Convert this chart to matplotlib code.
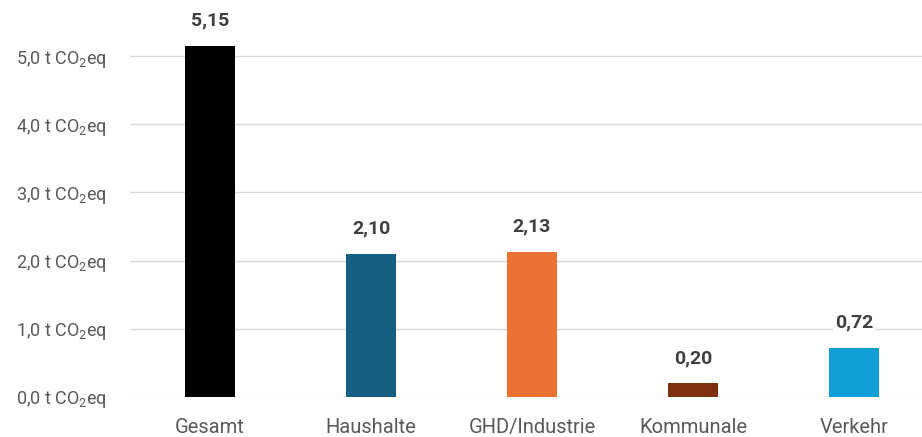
import matplotlib.pyplot as plt

# data
categories = ["Gesamt", "Haushalte", "GHD/Industrie", "Kommunale", "Verkehr"]
values = [5.15, 2.10, 2.13, 0.20, 0.72]
colors = ["#000000", "#156082", "#E97132", "#7E3010", "#0F9ED5"]
yticks = [0, 1, 2, 3, 4, 5]

plt.rcParams["font.family"] = ["Roboto", "DejaVu Sans"]
plt.rcParams["mathtext.default"] = "regular"

W, H = 922, 437
fig = plt.figure(figsize=(W / 100, H / 100), dpi=100)
# axes run past the right/top figure edge like the cropped original
left, bottom = 129.5 / W, 40 / H
ax = fig.add_axes((left, bottom, 805 / W, 409.2 / H))

x = range(len(categories))
ax.bar(x, values, width=50 / 161, color=colors, zorder=2)
ax.set_xlim(-0.5, len(categories) - 0.5)
ax.set_ylim(0, 6)

ax.set_yticks(yticks)
ax.set_yticklabels([f"{v},0 t CO$_2$eq" for v in yticks], color="#595959", fontsize=13)
ax.set_xticks(list(x))
ax.set_xticklabels(categories, color="#595959", fontsize=14.5)
ax.tick_params(length=0)
ax.tick_params(axis="y", pad=16)
ax.tick_params(axis="x", pad=15)

ax.grid(axis="y", color="#D9D9D9", lw=1, zorder=0)
for s in ax.spines.values():
    s.set_visible(False)

for i, v in enumerate(values):
    ax.annotate(f"{v:.2f}".replace(".", ","), (i, v), xytext=(0, 18),
                textcoords="offset points", ha="center", va="center",
                fontsize=14, fontweight="bold", color="#404040",
                bbox=dict(facecolor="white", edgecolor="none", pad=1.5), zorder=3)

fig.savefig("out.png", dpi=100)
